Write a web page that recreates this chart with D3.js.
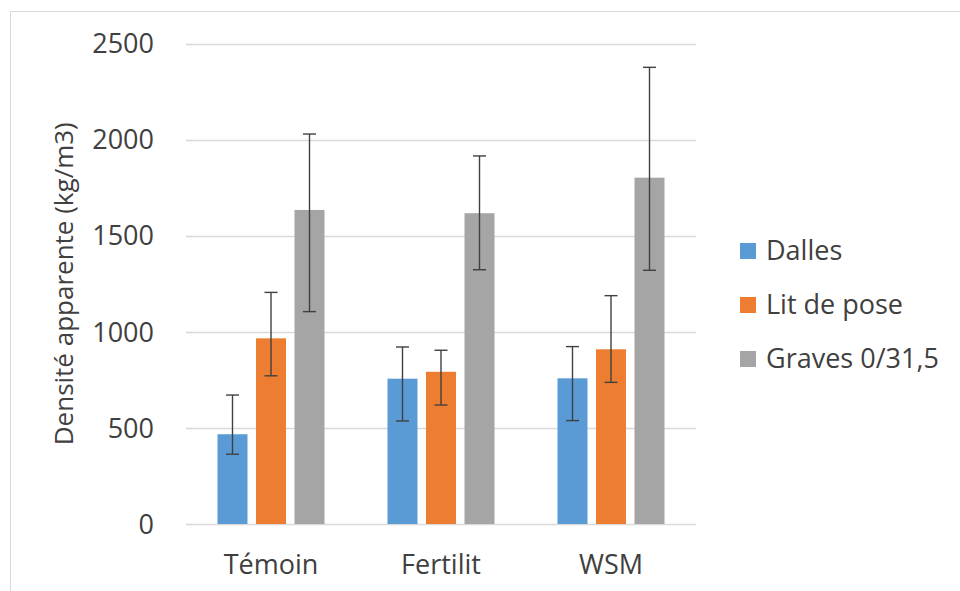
<!DOCTYPE html>
<html><head><meta charset="utf-8">
<script src="https://cdn.jsdelivr.net/npm/d3@7"></script>
<style>body{margin:0;background:#fff;} text{font-family:"Open Sans",sans-serif;}</style>
</head><body>
<svg id="chart" width="960" height="591"></svg>
<script>
const categories = ["Témoin", "Fertilit", "WSM"];
const seriesNames = ["Dalles", "Lit de pose", "Graves 0/31,5"];
const seriesColors = ["#5B9BD5", "#ED7D31", "#A5A5A5"];
const dallesValues = [467, 756, 758];
const dallesUpper = [671, 921, 923];
const dallesLower = [363, 536, 538];
const litValues = [966, 792, 909];
const litUpper = [1205, 904, 1188];
const litLower = [771, 619, 737];
const gravesValues = [1634, 1617, 1802];
const gravesUpper = [2029, 1915, 2376];
const gravesLower = [1105, 1323, 1320];
const yTicks = [0, 500, 1000, 1500, 2000, 2500];
const yTitle = "Densité apparente (kg/m3)";

const seriesValues = [dallesValues, litValues, gravesValues];
const seriesUpper = [dallesUpper, litUpper, gravesUpper];
const seriesLower = [dallesLower, litLower, gravesLower];

const svg = d3.select("#chart");
const plotLeft = 186, plotRight = 696, plotTop = 43.5, plotBottom = 524;
const textColor = "#404040";

// chart border (only top and left visible)
svg.append("rect").attr("x", 10.5).attr("y", 11.5).attr("width", 1000).attr("height", 1000)
  .attr("fill", "none").attr("stroke", "#d9d9d9").attr("stroke-width", 1);

const x0 = d3.scaleBand().domain(categories).range([plotLeft, plotRight]).padding(0);
const x1 = d3.scaleBand().domain(seriesNames).range([0, x0.bandwidth()])
  .paddingInner(0.221).paddingOuter(0.818);
const y = d3.scaleLinear().domain([0, 2500]).range([plotBottom, plotTop]);

// gridlines
svg.append("g").selectAll("line").data(yTicks).join("line")
  .attr("x1", plotLeft).attr("x2", plotRight)
  .attr("y1", d => Math.round(y(d)) + 0.5).attr("y2", d => Math.round(y(d)) + 0.5)
  .attr("stroke", "#d9d9d9").attr("stroke-width", 1.3);

// y tick labels
svg.append("g").selectAll("text").data(yTicks).join("text")
  .attr("x", 154).attr("y", d => y(d)).attr("dy", "0.36em")
  .attr("text-anchor", "end").attr("font-size", 27).attr("fill", textColor)
  .text(d => d);

// y title
svg.append("text")
  .attr("transform", `translate(73,${(plotTop + plotBottom) / 2}) rotate(-90)`)
  .attr("text-anchor", "middle").attr("font-size", 26).attr("fill", textColor)
  .text(yTitle);

// bars
const rows = [];
seriesNames.forEach((s, si) => {
  categories.forEach((c, ci) => {
    rows.push({ s, si, c, v: seriesValues[si][ci], hi: seriesUpper[si][ci], lo: seriesLower[si][ci] });
  });
});

svg.append("g").selectAll("rect").data(rows).join("rect")
  .attr("x", d => x0(d.c) + x1(d.s)).attr("width", x1.bandwidth())
  .attr("y", d => y(d.v)).attr("height", d => y(0) - y(d.v))
  .attr("fill", d => seriesColors[d.si]);

// error bars
const eb = svg.append("g").attr("stroke", "#404040").attr("stroke-width", 1.4).attr("fill", "none");
const cx = d => x0(d.c) + x1(d.s) + x1.bandwidth() / 2;
const capW = 6.5;
eb.selectAll("line.v").data(rows).join("line").attr("class", "v")
  .attr("x1", cx).attr("x2", cx).attr("y1", d => y(d.hi)).attr("y2", d => y(d.lo));
eb.selectAll("line.t").data(rows).join("line").attr("class", "t")
  .attr("x1", d => cx(d) - capW).attr("x2", d => cx(d) + capW).attr("y1", d => y(d.hi)).attr("y2", d => y(d.hi));
eb.selectAll("line.b").data(rows).join("line").attr("class", "b")
  .attr("x1", d => cx(d) - capW).attr("x2", d => cx(d) + capW).attr("y1", d => y(d.lo)).attr("y2", d => y(d.lo));

// category labels
svg.append("g").selectAll("text").data(categories).join("text")
  .attr("x", d => x0(d) + x0.bandwidth() / 2).attr("y", 574)
  .attr("text-anchor", "middle").attr("font-size", 27).attr("fill", textColor)
  .text(d => d);

// legend
const lg = svg.append("g").selectAll("g").data(seriesNames).join("g")
  .attr("transform", (d, i) => `translate(740,${260 + i * 54})`);
lg.append("rect").attr("x", 0).attr("y", -17).attr("width", 16).attr("height", 16)
  .attr("fill", (d, i) => seriesColors[i]);
lg.append("text").attr("x", 26).attr("y", 0).attr("font-size", 27).attr("fill", textColor)
  .text(d => d);
</script>
</body></html>
